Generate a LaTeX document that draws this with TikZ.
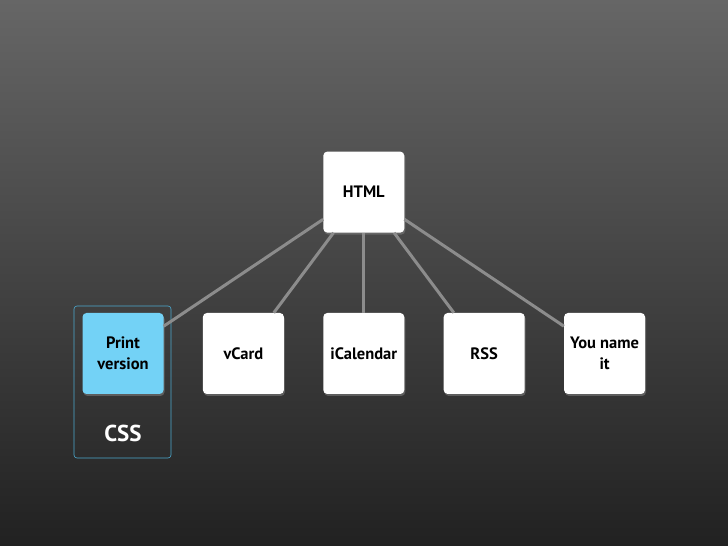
\documentclass[tikz,border=0pt]{standalone}
\usepackage{fontspec}
\setmainfont{PT Sans}
\usetikzlibrary{positioning,shadows}

\begin{document}
\begin{tikzpicture}[x=1pt,y=1pt,font=\bfseries\fontsize{16.5}{21}\selectfont,
  node distance=39pt,
  box/.style={fill=white,rounded corners=4pt,align=center,minimum width=81pt,minimum height=81pt,inner sep=2pt,
    drop shadow={opacity=0.55,shadow xshift=1pt,shadow yshift=-2pt}},
  link/.style={draw=gray!90,line width=3pt}]
\shade[top color=black!60,bottom color=black!87] (0,0) rectangle (728,546);
\useasboundingbox (0,0) rectangle (728,546);
\node[draw=cyan!65!gray,rounded corners=3pt,line width=0.6pt,minimum width=97pt,minimum height=152pt] (cssframe) at (122.5,164) {};
\node[box,fill=cyan!55!white] (print) at (123,192.5) {Print\\version};
\node[box,right=of print] (vcard) {vCard};
\node[box,right=of vcard] (ical) {iCalendar};
\node[box,right=of ical] (rss) {RSS};
\node[box,right=of rss] (other) {You name\\it};
\node[box,above=80pt of ical] (html) {HTML};
\node[text=white,font=\bfseries\fontsize{23}{26}\selectfont,below=27pt of print] (css) {CSS};
\foreach \n in {print,vcard,ical,rss,other}
  \draw[link] (html)--(\n);
\end{tikzpicture}
\end{document}
